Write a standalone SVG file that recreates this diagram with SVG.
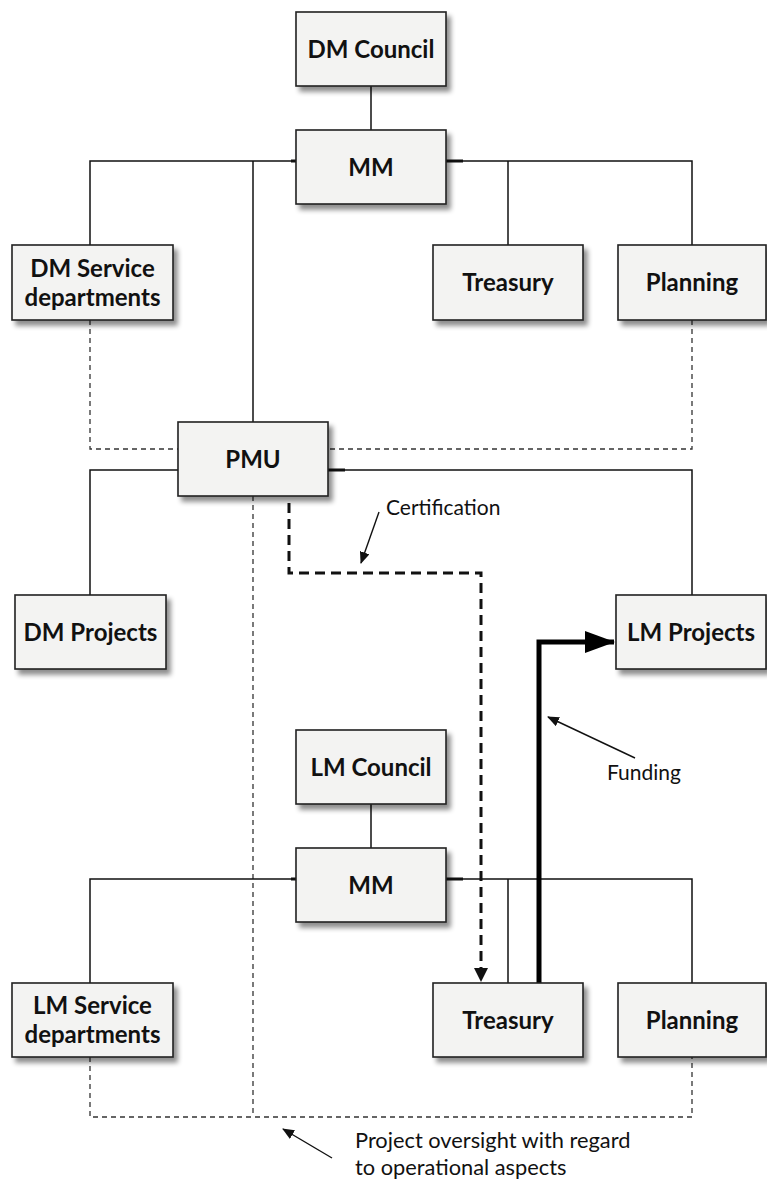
<svg xmlns="http://www.w3.org/2000/svg" width="767" height="1181" viewBox="0 0 767 1181">
  <defs>
    <filter id="shadow" x="-10%" y="-10%" width="130%" height="140%">
      <feGaussianBlur in="SourceAlpha" stdDeviation="2.5"/>
      <feOffset dx="4" dy="5" result="blur"/>
      <feComponentTransfer><feFuncA type="linear" slope="0.45"/></feComponentTransfer>
      <feMerge><feMergeNode/><feMergeNode in="SourceGraphic"/></feMerge>
    </filter>
    <marker id="headSmall" markerWidth="12" markerHeight="10" refX="11" refY="5" orient="auto" markerUnits="userSpaceOnUse">
      <path d="M0,0 L12,5 L0,10 z" fill="#111"/>
    </marker>
    <marker id="headCert" markerWidth="14" markerHeight="14" refX="13" refY="7" orient="auto" markerUnits="userSpaceOnUse">
      <path d="M0,0 L14,7 L0,14 z" fill="#111"/>
    </marker>
    <marker id="headFund" markerWidth="30" markerHeight="22" refX="29" refY="11" orient="auto" markerUnits="userSpaceOnUse">
      <path d="M0,0 L30,11 L0,22 z" fill="#000"/>
    </marker>
  </defs>
  <style>
    .box { fill: #f3f3f2; stroke: #222; stroke-width: 1.6; filter: url(#shadow); }
    .lbl { font-family: Lato, "Liberation Sans", sans-serif; font-weight: bold; font-size: 24px; fill: #111; text-anchor: middle; }
    .note { font-family: Lato, "Liberation Sans", sans-serif; font-size: 21px; fill: #111; }
    .note.wide { font-size: 21.8px; }
    .solid { fill: none; stroke: #111; stroke-width: 1.5; }
    .thin-dash { fill: none; stroke: #333; stroke-width: 1.3; stroke-dasharray: 5 4; }
    .cert { fill: none; stroke: #111; stroke-width: 3; stroke-dasharray: 10 6; }
    .fund { fill: none; stroke: #000; stroke-width: 5; }
    .pointer { fill: none; stroke: #111; stroke-width: 1.4; }
  </style>

  <!-- connectors -->
  <g id="connectors">
    <!-- district council to district MM -->
    <path class="solid" d="M371,86 V130"/>
    <!-- district MM branches -->
    <path class="solid" d="M296,161 H90 V245"/>
    <path class="solid" d="M446,161 H692 V245"/>
    <path class="solid" d="M508,161 V245"/>
    <path class="solid" d="M253,161 V422" stroke-width="2"/>
    <rect x="446" y="159.5" width="17" height="3" fill="#111"/>
    <rect x="291" y="159.5" width="5" height="3" fill="#111"/>
    <!-- PMU branches -->
    <path class="solid" d="M178,470 H90 V595"/>
    <path class="solid" d="M328,470 H692 V595"/>
    <rect x="328" y="468.5" width="17" height="3" fill="#111"/>
    <!-- dotted links around PMU -->
    <path class="thin-dash" d="M90,320 V449 H178"/>
    <path class="thin-dash" d="M692,320 V449 H328"/>
    <path class="thin-dash" d="M253,496 V1117"/>
    <!-- local council to local MM -->
    <path class="solid" d="M371,804 V848"/>
    <!-- local MM branches -->
    <path class="solid" d="M296,879 H90 V983"/>
    <path class="solid" d="M446,879 H692 V983"/>
    <path class="solid" d="M508,879 V983"/>
    <rect x="446" y="877.5" width="17" height="3" fill="#111"/>
    <rect x="291" y="877.5" width="5" height="3" fill="#111"/>
    <!-- operational oversight -->
    <path class="thin-dash" d="M90,1057 V1117 H692 V1057"/>
    <!-- certification -->
    <path class="cert" d="M289,503 V573 H481 V981" marker-end="url(#headCert)"/>
    <!-- funding -->
    <path class="fund" d="M539,983 V642 H614" marker-end="url(#headFund)"/>
    <!-- label pointers -->
    <path class="pointer" d="M379,512 L361,563" marker-end="url(#headSmall)"/>
    <path class="pointer" d="M635,758 L548,717" marker-end="url(#headSmall)"/>
    <path class="pointer" d="M332,1158 L283,1129" marker-end="url(#headSmall)"/>
  </g>

  <!-- nodes -->
  <g id="dm-council">
    <rect class="box" x="296" y="12" width="150" height="74"/>
    <text class="lbl" x="371" y="58">DM Council</text>
  </g>
  <g id="dm-mm">
    <rect class="box" x="296" y="130" width="150" height="74"/>
    <text class="lbl" x="371" y="176">MM</text>
  </g>
  <g id="dm-service">
    <rect class="box" x="12" y="245" width="161" height="75"/>
    <text class="lbl" x="92.5" y="277">DM Service</text>
    <text class="lbl" x="92.5" y="306">departments</text>
  </g>
  <g id="dm-treasury">
    <rect class="box" x="433" y="245" width="150" height="75"/>
    <text class="lbl" x="508" y="291">Treasury</text>
  </g>
  <g id="dm-planning">
    <rect class="box" x="618" y="245" width="148" height="75"/>
    <text class="lbl" x="692" y="291">Planning</text>
  </g>
  <g id="pmu">
    <rect class="box" x="178" y="422" width="150" height="74"/>
    <text class="lbl" x="253" y="468">PMU</text>
  </g>
  <g id="dm-projects">
    <rect class="box" x="15" y="595" width="151" height="74"/>
    <text class="lbl" x="90.5" y="641">DM Projects</text>
  </g>
  <g id="lm-projects">
    <rect class="box" x="616" y="595" width="150" height="74"/>
    <text class="lbl" x="691" y="641">LM Projects</text>
  </g>
  <g id="lm-council">
    <rect class="box" x="296" y="730" width="150" height="74"/>
    <text class="lbl" x="371" y="776">LM Council</text>
  </g>
  <g id="lm-mm">
    <rect class="box" x="296" y="848" width="150" height="74"/>
    <text class="lbl" x="371" y="894">MM</text>
  </g>
  <g id="lm-service">
    <rect class="box" x="12" y="983" width="161" height="74"/>
    <text class="lbl" x="92.5" y="1014">LM Service</text>
    <text class="lbl" x="92.5" y="1043">departments</text>
  </g>
  <g id="lm-treasury">
    <rect class="box" x="433" y="983" width="150" height="74"/>
    <text class="lbl" x="508" y="1029">Treasury</text>
  </g>
  <g id="lm-planning">
    <rect class="box" x="618" y="983" width="148" height="74"/>
    <text class="lbl" x="692" y="1029">Planning</text>
  </g>

  <!-- annotations -->
  <g id="labels">
    <text class="note" x="386" y="515">Certification</text>
    <text class="note" x="607" y="780">Funding</text>
    <text class="note wide" x="355" y="1148">Project oversight with regard</text>
    <text class="note wide" x="355" y="1175">to operational aspects</text>
  </g>
</svg>
